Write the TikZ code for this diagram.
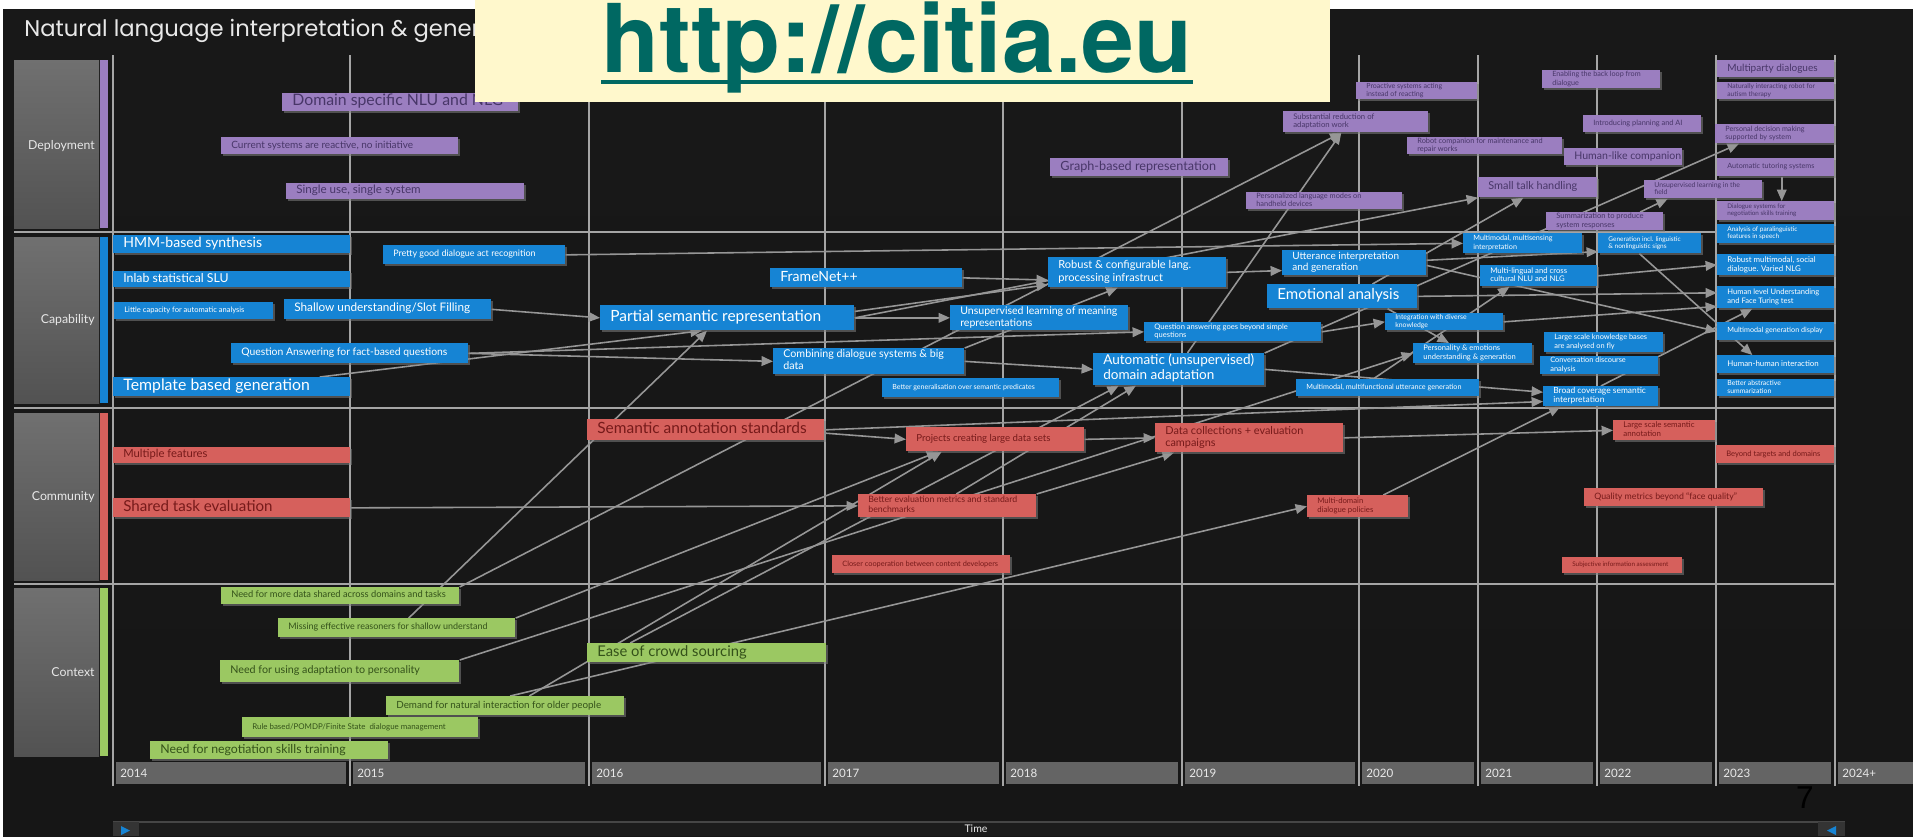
\documentclass[tikz,border=0pt]{standalone}
\usepackage{fontspec}
\setmainfont{Lato}
\newfontfamily\titlefont{Poppins}
\newfontfamily\urlfont{TeX Gyre Heros}
\newfontfamily\pagefont{Liberation Sans}
\usetikzlibrary{arrows.meta,calc,shadows}
\pgfdeclarelayer{back}
\pgfdeclarelayer{lines}
\pgfdeclarelayer{front}
\pgfsetlayers{back,lines,main,front}

\definecolor{bgtop}{RGB}{24,24,24}
\definecolor{bgmid}{RGB}{74,74,74}
\definecolor{bgbot}{RGB}{22,22,22}
\definecolor{gridc}{RGB}{165,165,165}
\definecolor{connc}{RGB}{150,150,150}
\definecolor{purpbox}{RGB}{155,126,192}
\definecolor{purptext}{RGB}{72,54,104}
\definecolor{bluebox}{RGB}{22,132,212}
\definecolor{redbox}{RGB}{214,96,92}
\definecolor{redtext}{RGB}{118,26,26}
\definecolor{greenbox}{RGB}{155,200,98}
\definecolor{greentext}{RGB}{52,82,26}
\definecolor{laneA}{RGB}{112,112,112}
\definecolor{laneB}{RGB}{82,82,82}
\definecolor{yearc}{RGB}{100,100,100}
\definecolor{yellowbg}{RGB}{255,248,204}
\definecolor{urlteal}{RGB}{0,104,98}
\definecolor{timebarc}{RGB}{28,28,28}
\definecolor{timeline}{RGB}{70,70,70}
\definecolor{btnc}{RGB}{52,52,52}
\definecolor{labelc}{RGB}{232,232,232}

\tikzset{
  boxbase/.style={rectangle, anchor=north west, inner xsep=0.2cm, inner ysep=0pt,
    drop shadow={opacity=0.55, shadow xshift=1.2pt, shadow yshift=-1.2pt}},
  depbox/.style={boxbase, fill=purpbox, text=purptext},
  capbox/.style={boxbase, fill=bluebox, text=white},
  combox/.style={boxbase, fill=redbox, text=redtext},
  ctxbox/.style={boxbase, fill=greenbox, text=greentext},
  conn/.style={draw=connc, line width=0.9pt, -{Triangle[length=6.5pt,width=5.5pt]}},
  gridline/.style={draw=gridc, line width=1pt},
  lanelabel/.style={anchor=east, text=labelc, font=\fontsize{7pt}{8pt}\selectfont, inner sep=0pt},
  yearlabel/.style={anchor=west, text=labelc, font=\fontsize{6.6pt}{8pt}\selectfont, inner sep=0pt},
}

\newcommand\bx[8]{%
  \pgfmathsetlengthmacro\bxw{(#5-#3)*0.02cm}%
  \pgfmathsetlengthmacro\bxh{(#6-#4)*0.02cm}%
  \pgfmathsetlengthmacro\bxt{(#5-#3)*0.02cm-0.4cm}%
  \pgfmathsetlengthmacro\bxl{1.12*#7pt}%
  \node[#1, minimum width=\bxw, minimum height=\bxh, font={\fontsize{#7pt}{\bxl}\selectfont}] (#2) at (#3,#4) {\makebox[\bxt][l]{\begin{tabular}{@{}l@{}}#8\end{tabular}}};%
}

\begin{document}
\begin{tikzpicture}[x=0.02cm, y=-0.02cm]
\useasboundingbox (0,0) rectangle (1913,836);

\begin{pgfonlayer}{back}
\fill[white] (0,0) rectangle (1913,836);
\shade[top color=bgtop, middle color=bgmid, bottom color=bgbot] (3,9) rectangle (1913,836);
% lane boxes
\shade[top color=laneA, bottom color=laneB] (14,60) rectangle (99,228);
\fill[purpbox] (100,60) rectangle (108,228);
\shade[top color=laneA, bottom color=laneB] (14,237) rectangle (99,403);
\fill[bluebox] (100,237) rectangle (108,403);
\shade[top color=laneA, bottom color=laneB] (14,413) rectangle (99,580);
\fill[redbox] (100,413) rectangle (108,580);
\shade[top color=laneA, bottom color=laneB] (14,588) rectangle (99,756);
\fill[greenbox] (100,588) rectangle (108,756);
% grid
\foreach \gx in {113,350,589,825,1003,1182,1359,1478,1597,1716,1835}
  \draw[gridline] (\gx,55) -- (\gx,786);
\foreach \gy in {232,408,584}
  \draw[gridline] (14,\gy) -- (1835,\gy);
% year bars
\foreach \xa/\xb/\yr [count=\i] in {116/346/2014, 353/585/2015, 592/821/2016, 828/999/2017, 1006/1178/2018, 1185/1355/2019, 1362/1474/2020, 1481/1593/2021, 1600/1712/2022, 1719/1831/2023, 1838/1913/2024+}{
  \fill[yearc] (\xa,762) rectangle (\xb,784);
  \node[yearlabel] (yr\i) at (\xa+4,773) {\yr};
}
% time bar
\fill[timebarc] (113,822) rectangle (1845,836);
\draw[timeline, line width=0.6pt] (113,822) -- (1845,822);
\fill[btnc] (113,822) rectangle (139,836);
\fill[bluebox] (121,826) -- (130,830.5) -- (121,835) -- cycle;
\fill[btnc] (1818,822) rectangle (1845,836);
\fill[bluebox] (1836,826) -- (1827,830.5) -- (1836,835) -- cycle;
\end{pgfonlayer}

\node[text=labelc, font=\fontsize{6pt}{7pt}\selectfont, inner sep=0pt] (timelbl) at (976,829) {Time};
\node[anchor=base, inner sep=0pt, text=black, font=\pagefont\fontsize{18pt}{20pt}\selectfont] (pagenum) at (1805,808) {7};
\node[anchor=base west, inner sep=0pt, text=labelc, font=\titlefont\fontsize{12.9pt}{15pt}\selectfont] (title) at (24,36) {Natural language interpretation \& generation};

% lane labels
\node[lanelabel] (labdep) at (95,146) {Deployment};
\node[lanelabel] (labcap) at (95,320) {Capability};
\node[lanelabel] (labcom) at (95,497) {Community};
\node[lanelabel] (labctx) at (95,672) {Context};

% Deployment
\bx{depbox}{d1}{282}{93}{518}{110}{9}{Domain specific NLU and NLG}
\bx{depbox}{d2}{221}{137}{458}{154}{5.7}{Current systems are reactive, no initiative}
\bx{depbox}{d3}{286}{183}{524}{199}{6.6}{Single use, single system}
\bx{depbox}{d4}{1050}{158}{1228}{176}{7.2}{Graph-based representation}
\bx{depbox}{d5}{1246}{192}{1402}{209}{4.2}{Personalized language modes on\\handheld devices}
\bx{depbox}{d6}{1283}{111}{1428}{132}{4.4}{Substantial reduction of\\adaptation work}
\bx{depbox}{d7}{1356}{82}{1477}{99}{4}{Proactive systems acting\\instead of reacting}
\bx{depbox}{d8}{1407}{137}{1562}{154}{4.2}{Robot companion for maintenance and\\repair works}
\bx{depbox}{d9}{1478}{177}{1597}{197}{6.2}{Small talk handling}
\bx{depbox}{d10}{1542}{70}{1660}{88}{4.1}{Enabling the back loop from\\dialogue}
\bx{depbox}{d11}{1583}{115}{1701}{132}{4.2}{Introducing planning and AI}
\bx{depbox}{d12}{1564}{148}{1682}{165}{6}{Human-like companion}
\bx{depbox}{d13}{1644}{180}{1762}{198}{3.9}{Unsupervised learning in the\\field}
\bx{depbox}{d14}{1546}{212}{1663}{230}{4.3}{Summarization to produce\\system responses}
\bx{depbox}{d15}{1717}{60}{1834}{77}{5.7}{Multiparty dialogues}
\bx{depbox}{d16}{1717}{82}{1834}{99}{3.8}{Naturally interacting robot for\\autism therapy}
\bx{depbox}{d17}{1715}{124}{1834}{143}{4.1}{Personal decision making\\supported by system}
\bx{depbox}{d18}{1717}{158}{1834}{176}{4.1}{Automatic tutoring systems}
\bx{depbox}{d19}{1717}{201}{1834}{220}{3.6}{Dialogue systems for\\negotiation skills training}

% Capability
\bx{capbox}{c1}{113}{235}{350}{253}{8}{HMM-based synthesis}
\bx{capbox}{c2}{113}{271}{350}{287}{7}{Inlab statistical SLU}
\bx{capbox}{c3}{114}{302}{273}{319}{4.3}{Little capacity for automatic analysis}
\bx{capbox}{c4}{284}{299}{491}{319}{6.7}{Shallow understanding/Slot Filling}
\bx{capbox}{c5}{231}{343}{468}{363}{5.9}{Question Answering for fact-based questions}
\bx{capbox}{c6}{113}{377}{350}{396}{9}{Template based generation}
\bx{capbox}{c7}{383}{245}{565}{264}{5.1}{Pretty good dialogue act recognition}
\bx{capbox}{c8}{770}{268}{962}{287}{8}{FrameNet++}
\bx{capbox}{c9}{600}{305}{854}{330}{8.8}{Partial semantic representation}
\bx{capbox}{c10}{773}{348}{964}{374}{6.1}{Combining dialogue systems \& big\\data}
\bx{capbox}{c11}{882}{378}{1059}{397}{4}{Better generalisation over semantic predicates}
\bx{capbox}{c12}{950}{305}{1128}{330}{6}{Unsupervised learning of meaning\\representations}
\bx{capbox}{c13}{1048}{257}{1226}{287}{6.3}{Robust \& configurable lang.\\processing infrastruct}
\bx{capbox}{c14}{1144}{322}{1321}{341}{4.3}{Question answering goes beyond simple\\questions}
\bx{capbox}{c15}{1093}{353}{1264}{385}{7.7}{Automatic (unsupervised)\\domain adaptation}
\bx{capbox}{c16}{1282}{250}{1426}{275}{5.7}{Utterance interpretation\\and generation}
\bx{capbox}{c17}{1267}{284}{1417}{308}{8.6}{Emotional analysis}
\bx{capbox}{c18}{1385}{313}{1503}{330}{3.9}{Integration with diverse\\knowledge}
\bx{capbox}{c19}{1413}{343}{1532}{363}{4.3}{Personality \& emotions\\understanding \& generation}
\bx{capbox}{c20}{1296}{379}{1479}{396}{4.1}{Multimodal, multifunctional utterance generation}
\bx{capbox}{c21}{1463}{233}{1582}{253}{4.1}{Multimodal, multisensing\\interpretation}
\bx{capbox}{c22}{1480}{265}{1597}{286}{4.4}{Multi-lingual and cross\\cultural NLU and NLG}
\bx{capbox}{c23}{1598}{233}{1701}{253}{3.7}{Generation incl. linguistic\\\& nonlinguistic signs}
\bx{capbox}{c24}{1544}{332}{1663}{352}{4.2}{Large scale knowledge bases\\are analysed on fly}
\bx{capbox}{c25}{1540}{356}{1658}{374}{4.2}{Conversation discourse\\analysis}
\bx{capbox}{c26}{1543}{386}{1658}{406}{4.8}{Broad coverage semantic\\interpretation}
\bx{capbox}{c27}{1717}{224}{1834}{243}{3.7}{Analysis of paralinguistic\\features in speech}
\bx{capbox}{c28}{1717}{254}{1834}{275}{4.5}{Robust multimodal, social\\dialogue. Varied NLG}
\bx{capbox}{c29}{1717}{286}{1834}{308}{4.3}{Human level Understanding\\and Face Turing test}
\bx{capbox}{c30}{1717}{322}{1834}{340}{4.1}{Multimodal generation display}
\bx{capbox}{c31}{1717}{355}{1834}{373}{4.5}{Human-human interaction}
\bx{capbox}{c32}{1717}{379}{1834}{396}{3.9}{Better abstractive\\summarization}

% Community
\bx{combox}{r1}{113}{447}{350}{463}{6.4}{Multiple features}
\bx{combox}{r2}{113}{498}{350}{517}{8.6}{Shared task evaluation}
\bx{combox}{r3}{587}{419}{824}{440}{8.8}{Semantic annotation standards}
\bx{combox}{r4}{906}{427}{1084}{451}{5.5}{Projects creating large data sets}
\bx{combox}{r5}{858}{494}{1036}{517}{5}{Better evaluation metrics and standard\\benchmarks}
\bx{combox}{r6}{832}{555}{1010}{573}{4.2}{Closer cooperation between content developers}
\bx{combox}{r7}{1155}{423}{1343}{452}{6.2}{Data collections + evaluation\\campaigns}
\bx{combox}{r8}{1307}{495}{1408}{517}{4.4}{Multi-domain\\dialogue policies}
\bx{combox}{r9}{1613}{420}{1715}{440}{4.5}{Large scale semantic\\annotation}
\bx{combox}{r10}{1716}{445}{1834}{463}{4.3}{Beyond targets and domains}
\bx{combox}{r11}{1584}{488}{1763}{506}{5}{Quality metrics beyond ``face quality''}
\bx{combox}{r12}{1562}{557}{1682}{573}{3.6}{Subjective information assessment}

% Context
\bx{ctxbox}{g1}{221}{587}{459}{604}{5.3}{Need for more data shared across domains and tasks}
\bx{ctxbox}{g2}{278}{618}{515}{637}{5.1}{Missing effective reasoners for shallow understand}
\bx{ctxbox}{g3}{220}{660}{459}{682}{6.1}{Need for using adaptation to personality}
\bx{ctxbox}{g4}{386}{696}{624}{715}{5.6}{Demand for natural interaction for older people}
\bx{ctxbox}{g5}{242}{717}{478}{737}{4.5}{Rule based/POMDP/Finite State\ \ dialogue management}
\bx{ctxbox}{g6}{150}{741}{388}{759}{7}{Need for negotiation skills training}
\bx{ctxbox}{g7}{587}{643}{826}{662}{8.4}{Ease of crowd sourcing}

% connectors
\begin{pgfonlayer}{lines}
\draw[conn] (c4.east) -- (c9.west);
\draw[conn] (c5.east) -- (c10.west);
\draw[conn] (c5.east) -- (c14.west);
\draw[conn] ($(c6.north west)!0.87!(c6.north east)$) -- ($(c9.south west)!0.4!(c9.south east)$);
\draw[conn] ($(g2.north west)!0.55!(g2.north east)$) -- ($(c9.south west)!0.42!(c9.south east)$);
\draw[conn] (c7.east) -- (c21.west);
\draw[conn] (c8.east) -- ($(c13.north west)!0.75!(c13.south west)$);
\draw[conn] (c9.east) -- (c12.west);
\draw[conn] ($(c9.north east)!0.25!(c9.south east)$) -- ($(c13.north west)!0.9!(c13.south west)$);
\draw[conn] (c10.north east) -- ($(c13.south west)!0.39!(c13.south east)$);
\draw[conn] (c10.east) -- (c15.west);
\draw[conn] (c15.east) -- ($(c26.north west)!0.3!(c26.south west)$);
\draw[conn] (r3.east) -- ($(c26.north west)!0.75!(c26.south west)$);
\draw[conn] ($(c13.north east)!0.5!(c13.south east)$) -- ($(c16.north west)!0.8!(c16.south west)$);
\draw[conn] (c14.east) -- (c18.west);
\draw[conn] ($(c17.south west)!0.8!(c17.south east)$) -- ($(c19.north west)!0.3!(c19.north east)$);
\draw[conn] (c17.east) -- ($(c29.north west)!0.3!(c29.south west)$);
\draw[conn] (c18.east) -- ($(c29.north west)!0.9!(c29.south west)$);
\draw[conn] ($(c16.north east)!0.6!(c16.south east)$) -- (c30.west);
\draw[conn] ($(c16.north east)!0.4!(c16.south east)$) -- ($(c23.north west)!0.9!(c23.south west)$);
\draw[conn] (c22.east) -- (c28.west);
\draw[conn] ($(c23.south west)!0.4!(c23.south east)$) -- ($(c31.north west)!0.3!(c31.north east)$);
\draw[conn] ($(c26.north west)!0.5!(c26.north east)$) -- ($(c29.south west)!0.3!(c29.south east)$);
\draw[conn] ($(c20.north west)!0.42!(c20.north east)$) -- ($(c22.south west)!0.25!(c22.south east)$);
\draw[conn] (c9.east) -- (d9.south west);
\draw[conn] ($(c17.north west)!0.7!(c17.north east)$) -- ($(d9.south west)!0.38!(d9.south east)$);
\draw[conn] ($(c15.north west)!0.55!(c15.north east)$) -- ($(d6.south west)!0.4!(d6.south east)$);
\draw[conn] (g1.north east) -- ($(d6.south west)!0.4!(d6.south east)$);
\draw[conn] (c15.north east) -- ($(d17.south west)!0.2!(d17.south east)$);
\draw[conn] ($(d14.north west)!0.8!(d14.north east)$) -- ($(d13.south west)!0.2!(d13.south east)$);
\draw[conn] ($(d18.south west)!0.55!(d18.south east)$) -- ($(d19.north west)!0.55!(d19.north east)$);
\draw[conn] (r2.east) -- (r5.west);
\draw[conn] ($(r3.north east)!0.65!(r3.south east)$) -- (r4.west);
\draw[conn] (r4.east) -- (r7.west);
\draw[conn] (r5.north east) -- ($(r7.south west)!0.1!(r7.south east)$);
\draw[conn] (r7.east) -- (r9.west);
\draw[conn] (g2.north east) -- ($(r4.south west)!0.18!(r4.south east)$);
\draw[conn] ($(g4.north west)!0.6!(g4.north east)$) -- ($(r4.south west)!0.2!(r4.south east)$);
\draw[conn] ($(g4.north west)!0.52!(g4.north east)$) -- (r8.west);
\draw[conn] ($(g7.north west)!0.18!(g7.north east)$) -- ($(c15.south west)!0.15!(c15.south east)$);
\draw[conn] ($(r5.north west)!0.55!(r5.north east)$) -- ($(c15.south west)!0.25!(c15.south east)$);
\draw[conn] (g3.north east) -- (c19.west);
\draw[conn] ($(r8.north west)!0.75!(r8.north east)$) -- ($(c26.south west)!0.15!(c26.south east)$);
\end{pgfonlayer}

\begin{pgfonlayer}{front}
\fill[yellowbg] (475,0) rectangle (1330,102);
\node[anchor=base, inner sep=0pt, text=urlteal, font=\urlfont\bfseries\fontsize{54pt}{60pt}\selectfont] (url) at (897,72) {http://citia.eu};
\draw[urlteal, line width=2.8pt] ([yshift=-0.2cm]url.base west) -- ([yshift=-0.2cm]url.base east);
\end{pgfonlayer}
\end{tikzpicture}
\end{document}
